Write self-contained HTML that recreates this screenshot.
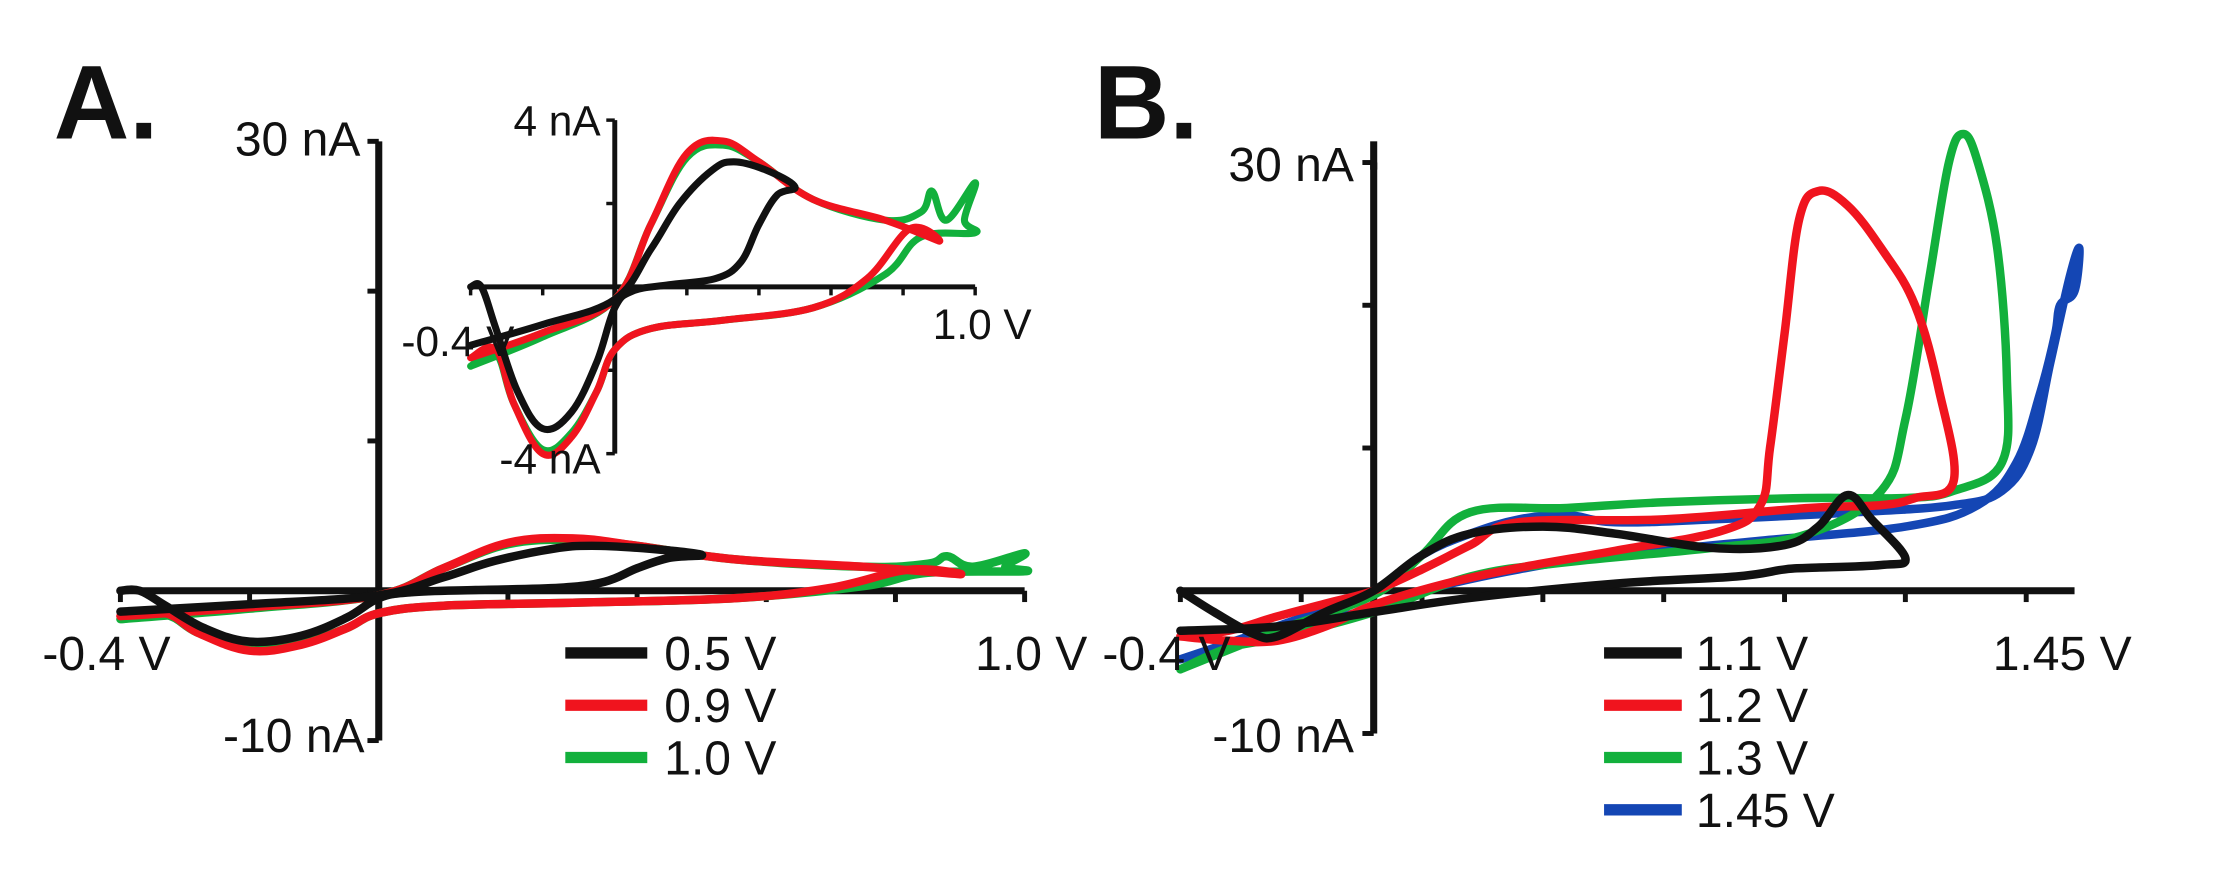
<!DOCTYPE html>
<html><head><meta charset="utf-8"><style>
html,body{margin:0;padding:0;background:#fff;}
svg{display:block;font-family:"Liberation Sans",Arial,sans-serif;}
</style></head><body>
<svg id="fig" width="2216" height="872" viewBox="0 0 2216 872">
<g transform="scale(1.41327)">
<g id="gA"></g>
<g id="gI"></g>
<g id="gB"></g>
</g>
</svg>
<script>
// Panel A data (potential V, current nA) for each trace
const seriesANames = ["0.5 V","0.9 V","1.0 V"];
const seriesAColors = ["#111","#f0141e","#12b03c"];
const a05V = [-0.4,-0.2,0,0.1,0.18,0.27,0.33,0.42,0.5,0.45,0.4,0.35,0.28,0.15,0.05,0,-0.05,-0.12,-0.2,-0.27,-0.33,-0.37,-0.4];
const a05I = [-1.4,-0.9,-0.3,0.9,2.0,2.8,3.0,2.8,2.4,2.2,1.5,0.6,0.2,0.05,-0.1,-0.5,-1.8,-3.0,-3.4,-2.5,-1.0,0,0];
const a09V = [-0.4,-0.2,0,0.1,0.2,0.3,0.4,0.55,0.75,0.9,0.82,0.7,0.55,0.3,0.1,0,-0.05,-0.12,-0.2,-0.28,-0.33,-0.4];
const a09I = [-1.7,-1.1,-0.3,1.5,3.2,3.5,3.0,2.1,1.6,1.1,1.4,0.2,-0.5,-0.8,-1.0,-1.5,-2.5,-3.6,-4.0,-2.8,-1.5,-1.7];
const a10V = [-0.4,-0.2,0,0.1,0.2,0.3,0.4,0.55,0.75,0.85,0.88,0.92,1.0,0.97,1.0,0.85,0.75,0.55,0.3,0.1,0,-0.05,-0.12,-0.2,-0.28,-0.33,-0.4];
const a10I = [-1.9,-1.2,-0.3,1.5,3.1,3.4,3.0,2.1,1.6,1.8,2.3,1.6,2.5,1.6,1.3,1.2,0.3,-0.5,-0.8,-1.0,-1.5,-2.5,-3.5,-3.9,-2.8,-1.6,-1.9];
// Panel B data
const seriesBNames = ["1.1 V","1.2 V","1.3 V","1.45 V"];
const seriesBColors = ["#111","#f0141e","#12b03c","#1446b4"];
const b11V = [-0.4,-0.33,-0.25,-0.2,-0.1,0,0.1,0.2,0.35,0.5,0.7,0.85,0.92,0.98,1.03,1.1,1.05,0.9,0.85,0.75,0.5,0.2,0,-0.2,-0.4];
const b11I = [0,-1.5,-3.0,-3.2,-1.5,0,2.5,4.0,4.5,4.0,3.0,3.2,4.5,6.7,5,2.3,1.8,1.6,1.5,1.0,0.5,-0.5,-1.5,-2.5,-2.8];
const b12V = [-0.4,-0.3,-0.2,-0.1,0,0.1,0.2,0.3,0.6,0.9,1.05,1.12,1.2,1.17,1.12,1.05,0.98,0.92,0.88,0.85,0.82,0.8,0.72,0.5,0.3,0.15,0,-0.1,-0.2,-0.3,-0.4];
const b12I = [-3.2,-2.8,-1.8,-0.9,0,1.5,3.2,4.8,5.0,5.8,6.0,6.5,7.7,14,20,24,27,28,26,18,10,6,4.2,2.8,1.6,0.5,-1,-2.5,-3.5,-3.5,-3.2];
const b13V = [-0.4,-0.2,0,0.1,0.2,0.4,0.6,0.9,1.1,1.2,1.3,1.31,1.29,1.25,1.22,1.19,1.15,1.1,1.05,0.9,0.7,0.4,0.2,0,-0.2,-0.3,-0.4];
const b13I = [-5.5,-2.8,-0.3,2.5,5.5,5.8,6.2,6.5,6.5,7,9,15,24,30,32,30,22,12,7,4,3,2.0,1.0,-1.5,-3.3,-4,-5.5];
const b145V = [-0.4,-0.2,0,0.1,0.2,0.3,0.4,0.5,0.7,1.0,1.2,1.3,1.36,1.4,1.44,1.46,1.45,1.42,1.41,1.38,1.33,1.25,1.1,0.8,0.5,0.3,0.1,0,-0.2,-0.3,-0.4];
const b145I = [-4.8,-2.5,0,2.5,4,5,5.3,4.8,5,5.5,6,7,10,16,22,24,21,20,18,14,9,6,4.5,3.5,2.5,1.5,0,-1.2,-3,-3.8,-4.8];
const ticksA = ["-0.4 V","1.0 V","30 nA","-10 nA"];
const ticksInset = ["-0.4 V","1.0 V","4 nA","-4 nA"];
const ticksB = ["-0.4 V","1.45 V","30 nA","-10 nA"];

const NS="http://www.w3.org/2000/svg";
function mk(parent,tag,attrs){const e=document.createElementNS(NS,tag);for(const k in attrs)e.setAttribute(k,attrs[k]);parent.appendChild(e);return e;}
function axes(ox,oy,pxV,pxI){return {x:v=>ox+v*pxV,y:i=>oy-i*pxI};}
function trace(g,ax,V,I,color,w,name){
  const P=V.map((v,k)=>[ax.x(v),ax.y(I[k])]);
  let d="M"+P[0][0].toFixed(1)+" "+P[0][1].toFixed(1);
  const t=0.18;
  for(let k=0;k<P.length-1;k++){
    const p0=P[Math.max(k-1,0)],p1=P[k],p2=P[k+1],p3=P[Math.min(k+2,P.length-1)];
    const c1=[p1[0]+(p2[0]-p0[0])*t,p1[1]+(p2[1]-p0[1])*t];
    const c2=[p2[0]-(p3[0]-p1[0])*t,p2[1]-(p3[1]-p1[1])*t];
    d+="C"+c1[0].toFixed(1)+" "+c1[1].toFixed(1)+" "+c2[0].toFixed(1)+" "+c2[1].toFixed(1)+" "+p2[0].toFixed(1)+" "+p2[1].toFixed(1);
  }
  const p=mk(g,"path",{d:d,fill:"none",stroke:color,"stroke-width":w,"stroke-linejoin":"round","stroke-linecap":"round"});
  
  
}
function txt(g,x,y,s,size,anchor,name,weight){
  const t=mk(g,"text",{x:x,y:y,"font-size":size,"text-anchor":anchor||"start","font-weight":weight||"normal",fill:"#111"});
  t.textContent=s;
  
  
}
function axisLines(g,ax,vmin,vmax,imin,imax,vstep,istep,w,tl,prefix){
  const xl=mk(g,"line",{x1:ax.x(vmin),x2:ax.x(vmax),y1:ax.y(0),y2:ax.y(0),stroke:"#111","stroke-width":w});
  
  
  const yl=mk(g,"line",{x1:ax.x(0),x2:ax.x(0),y1:ax.y(imax),y2:ax.y(imin),stroke:"#111","stroke-width":w});
  
  
  for(let v=vmin;v<=vmax+1e-6;v+=vstep){mk(g,"line",{x1:ax.x(v),x2:ax.x(v),y1:ax.y(0),y2:ax.y(0)+tl,stroke:"#111","stroke-width":w*0.7});}
  for(let i=imin;i<=imax+1e-6;i+=istep){mk(g,"line",{x1:ax.x(0)-tl,x2:ax.x(0),y1:ax.y(i),y2:ax.y(i),stroke:"#111","stroke-width":w*0.7});}
}
// Panel A
const gA=document.getElementById("gA");
const axA=axes(268,418,457,10.6);
axisLines(gA,axA,-0.4,1.0,-10,30,0.2,10,5,8,"panel-a");
trace(gA,axA,a10V,a10I,seriesAColors[2],6,"trace-a-1-0v");
trace(gA,axA,a09V,a09I,seriesAColors[1],6,"trace-a-0-9v");
trace(gA,axA,a05V,a05I,seriesAColors[0],6,"trace-a-0-5v");
txt(gA,38,98,"A.",74,"start","panel-a-label","bold");
txt(gA,255,110,ticksA[2],34,"end","panel-a-y-max-label");
txt(gA,258,532,ticksA[3],34,"end","panel-a-y-min-label");
txt(gA,30,474,ticksA[0],34,"start","panel-a-x-min-label");
txt(gA,690,474,ticksA[1],34,"start","panel-a-x-max-label");
[0,1,2].forEach(k=>{const y=462+k*37;
  const l=mk(gA,"line",{x1:400,x2:458,y1:y,y2:y,stroke:seriesAColors[k],"stroke-width":8});
  
  
  txt(gA,470,y+12,seriesANames[k],34,"start","legend-a-label");});
// Inset
const gI=document.getElementById("gI");
const axI=axes(435,203,255,29.5);
axisLines(gI,axI,-0.4,1.0,-4,4,0.2,2,3.5,6,"inset");
trace(gI,axI,a10V,a10I,seriesAColors[2],5,"inset-trace-1-0v");
trace(gI,axI,a09V,a09I,seriesAColors[1],5,"inset-trace-0-9v");
trace(gI,axI,a05V,a05I,seriesAColors[0],5,"inset-trace-0-5v");
txt(gI,284,252,ticksInset[0],30,"start","inset-x-min-label");
txt(gI,660,240,ticksInset[1],30,"start","inset-x-max-label");
txt(gI,425,96,ticksInset[2],30,"end","inset-y-max-label");
txt(gI,425,335,ticksInset[3],30,"end","inset-y-min-label");
// Panel B
const gB=document.getElementById("gB");
const axB=axes(972,418,342,10.1);
axisLines(gB,axB,-0.4,1.45,-10,30,0.25,10,5,8,"panel-b");
mk(gB,"line",{x1:972,x2:972,y1:100,y2:120,stroke:"#111","stroke-width":5});
trace(gB,axB,b145V,b145I,seriesBColors[3],6,"trace-b-1-45v");
trace(gB,axB,b13V,b13I,seriesBColors[2],6,"trace-b-1-3v");
trace(gB,axB,b12V,b12I,seriesBColors[1],6,"trace-b-1-2v");
trace(gB,axB,b11V,b11I,seriesBColors[0],6,"trace-b-1-1v");
txt(gB,774,98,"B.",74,"start","panel-b-label","bold");
txt(gB,958,128,ticksB[2],34,"end","panel-b-y-max-label");
txt(gB,958,532,ticksB[3],34,"end","panel-b-y-min-label");
txt(gB,780,474,ticksB[0],34,"start","panel-b-x-min-label");
txt(gB,1410,474,ticksB[1],34,"start","panel-b-x-max-label");
[0,1,2,3].forEach(k=>{const y=462+k*37;
  const l=mk(gB,"line",{x1:1135,x2:1190,y1:y,y2:y,stroke:seriesBColors[k],"stroke-width":8});
  
  
  txt(gB,1200,y+12,seriesBNames[k],34,"start","legend-b-label");});
</script>
</body></html>
